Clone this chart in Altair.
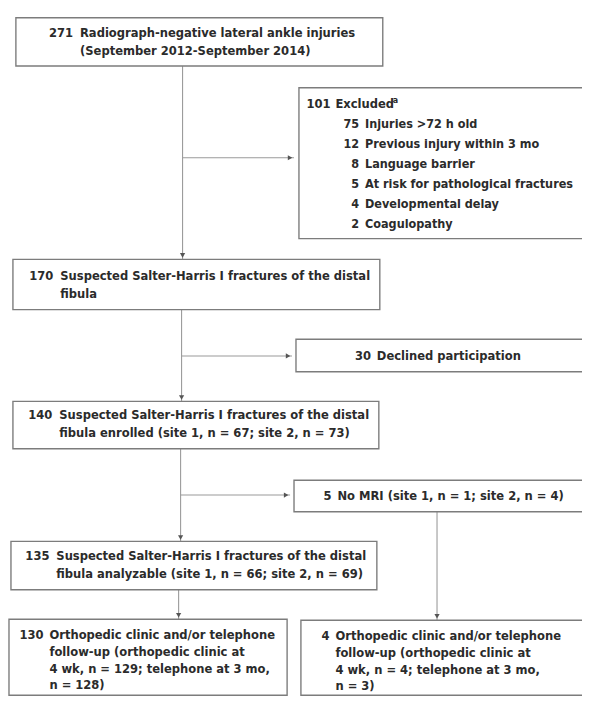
import altair as alt
import pandas as pd

# ---------------- data ----------------
box_ids = ["screened", "excluded", "suspected", "declined", "enrolled",
           "no_mri", "analyzable", "followup_mri", "followup_no_mri"]
box_counts = [271, 101, 170, 30, 140, 5, 135, 130, 4]
box_text = [
    ["Radiograph-negative lateral ankle injuries", "(September 2012-September 2014)"],
    ["Excluded"],
    ["Suspected Salter-Harris I fractures of the distal", "fibula"],
    ["Declined participation"],
    ["Suspected Salter-Harris I fractures of the distal",
     "fibula enrolled (site 1, n = 67; site 2, n = 73)"],
    ["No MRI (site 1, n = 1; site 2, n = 4)"],
    ["Suspected Salter-Harris I fractures of the distal",
     "fibula analyzable (site 1, n = 66; site 2, n = 69)"],
    ["Orthopedic clinic and/or telephone", "follow-up (orthopedic clinic at",
     "4 wk, n = 129; telephone at 3 mo,", "n = 128)"],
    ["Orthopedic clinic and/or telephone", "follow-up (orthopedic clinic at",
     "4 wk, n = 4; telephone at 3 mo,", "n = 3)"],
]
excl_counts = [75, 12, 8, 5, 4, 2]
excl_reasons = ["Injuries >72 h old", "Previous injury within 3 mo", "Language barrier",
                "At risk for pathological fractures", "Developmental delay", "Coagulopathy"]
footnote_mark = "a"

# ---------------- layout (pixel positions) ----------------
layout = {
    "screened":        dict(x1=16,  y1=13,  x2=388, y2=62,  nx=74,  bx=81,  ly=29,  gap=18),
    "excluded":        dict(x1=303, y1=84,  x2=600, y2=237, nx=335, bx=340, ly=101, gap=20.2),
    "suspected":       dict(x1=13,  y1=258, x2=385, y2=309, nx=54,  bx=61,  ly=275, gap=18),
    "declined":        dict(x1=300, y1=339, x2=600, y2=372, nx=376, bx=382, ly=356, gap=18),
    "enrolled":        dict(x1=13,  y1=402, x2=384, y2=450, nx=53,  bx=60,  ly=416, gap=18),
    "no_mri":          dict(x1=298, y1=482, x2=600, y2=514, nx=336, bx=342, ly=498, gap=18),
    "analyzable":      dict(x1=11,  y1=544, x2=382, y2=593, nx=50,  bx=57,  ly=559, gap=18),
    "followup_mri":    dict(x1=9,   y1=623, x2=291, y2=700, nx=44,  bx=50,  ly=639, gap=17),
    "followup_no_mri": dict(x1=305, y1=624, x2=600, y2=700, nx=334, bx=340, ly=640, gap=17),
}
excl_num_x, excl_text_x = 364, 370
sup_x, sup_dy = 398, -5

# connector segments: (x1, y1, x2, y2)
segments = [
    (185, 62, 185, 258), (185, 155, 298, 155),
    (184, 309, 184, 402), (184, 356, 296, 356),
    (183, 450, 183, 544), (183, 497, 294, 497),
    (181, 593, 181, 623),
    (443, 514, 443, 624),
]
# arrowheads: (x, y, shape)
arrows = [
    (185, 254, "triangle-down"), (294, 155, "triangle-right"),
    (184, 398, "triangle-down"), (292, 356, "triangle-right"),
    (183, 540, "triangle-down"), (290, 497, "triangle-right"),
    (181, 619, "triangle-down"), (443, 620, "triangle-down"),
]

# ---------------- build tables ----------------
boxes = pd.DataFrame([dict(id=b, **{k: layout[b][k] for k in ("x1", "y1", "x2", "y2")})
                      for b in box_ids])

num_rows, body_rows = [], []
for b, c, lines in zip(box_ids, box_counts, box_text):
    L = layout[b]
    num_rows.append(dict(x=L["nx"], y=L["ly"], t=str(c), fs=13.0))
    for i, ln in enumerate(lines):
        body_rows.append(dict(x=L["bx"], y=L["ly"] + i * L["gap"], t=ln, fs=13.0))
L = layout["excluded"]
for i, (c, r) in enumerate(zip(excl_counts, excl_reasons)):
    y = L["ly"] + (i + 1) * L["gap"]
    num_rows.append(dict(x=excl_num_x, y=y, t=str(c), fs=12.7))
    body_rows.append(dict(x=excl_text_x, y=y, t=r, fs=12.7))
nums = pd.DataFrame(num_rows)
bodies = pd.DataFrame(body_rows)
sup = pd.DataFrame([dict(x=sup_x, y=L["ly"] + sup_dy, t=footnote_mark)])
segs = pd.DataFrame(segments, columns=["x1", "y1", "x2", "y2"])
heads = pd.DataFrame(arrows, columns=["x", "y", "shape"])

# ---------------- chart ----------------
W, H = 582, 693
xs = alt.Scale(domain=[8, 8 + W], nice=False, zero=False)
ys = alt.Scale(domain=[8, 8 + H], nice=False, zero=False, reverse=True)
FONT = "Liberation Sans Narrow, DejaVu Sans Condensed, sans-serif"
TXT = "#2b2b2b"

rects = alt.Chart(boxes).mark_rect(fill="white", stroke="#7c7c7c", strokeWidth=1.4).encode(
    x=alt.X("x1:Q", scale=xs, axis=None), x2="x2:Q",
    y=alt.Y("y1:Q", scale=ys, axis=None), y2="y2:Q")

lines = alt.Chart(segs).mark_rule(color="#9a9a9a", strokeWidth=1.1).encode(
    x=alt.X("x1:Q", scale=xs, axis=None), x2="x2:Q",
    y=alt.Y("y1:Q", scale=ys, axis=None), y2="y2:Q")

heads_l = alt.Chart(heads).mark_point(filled=True, size=28, color="#555555", opacity=1).encode(
    x=alt.X("x:Q", scale=xs, axis=None),
    y=alt.Y("y:Q", scale=ys, axis=None),
    shape=alt.Shape("shape:N", scale=None))

num_l = alt.Chart(nums).mark_text(align="right", baseline="middle", font=FONT,
                                  fontWeight="bold", color=TXT).encode(
    x=alt.X("x:Q", scale=xs, axis=None), y=alt.Y("y:Q", scale=ys, axis=None), text="t:N",
    size=alt.Size("fs:Q", scale=None, legend=None))

body_l = alt.Chart(bodies).mark_text(align="left", baseline="middle", font=FONT,
                                     fontWeight="bold", color=TXT).encode(
    x=alt.X("x:Q", scale=xs, axis=None), y=alt.Y("y:Q", scale=ys, axis=None), text="t:N",
    size=alt.Size("fs:Q", scale=None, legend=None))

sup_l = alt.Chart(sup).mark_text(align="left", baseline="middle", font=FONT,
                                 fontSize=9, fontWeight="bold", color=TXT).encode(
    x=alt.X("x:Q", scale=xs, axis=None), y=alt.Y("y:Q", scale=ys, axis=None), text="t:N")

chart = alt.layer(lines, heads_l, rects, num_l, body_l, sup_l).properties(
    width=W, height=H, padding=0,
    autosize=alt.AutoSizeParams(type="none"),
    background="white",
).configure_view(stroke=None)

chart.save("out.html", embed_options={"renderer": "svg", "actions": False})
